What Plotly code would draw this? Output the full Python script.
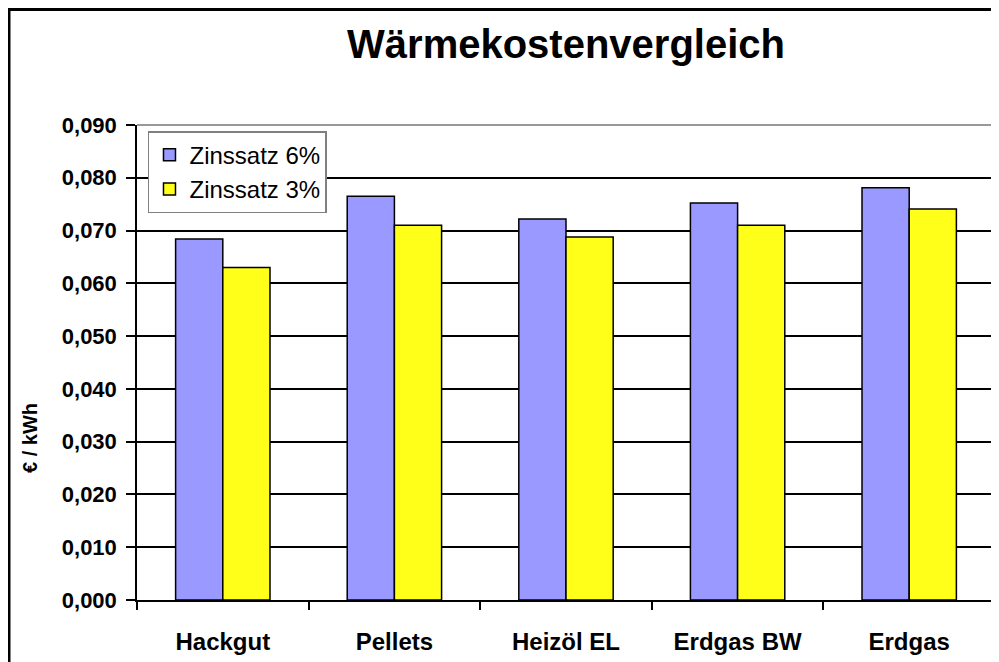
import plotly.graph_objects as go

categories = ["Hackgut", "Pellets", "Heizöl EL", "Erdgas BW", "Erdgas"]
zins_6 = [0.0684, 0.0765, 0.0722, 0.0752, 0.0781]
zins_3 = [0.0630, 0.0710, 0.0688, 0.0710, 0.0741]
y_ticks = [0.0, 0.01, 0.02, 0.03, 0.04, 0.05, 0.06, 0.07, 0.08, 0.09]

sans = "Liberation Sans, Arial, sans-serif"

fig = go.Figure()
fig.add_trace(go.Bar(x=categories, y=zins_6, name="Zinssatz 6%",
                     marker=dict(color="#9999ff", line=dict(color="black", width=1.5))))
fig.add_trace(go.Bar(x=categories, y=zins_3, name="Zinssatz 3%",
                     marker=dict(color="#ffff1a", line=dict(color="black", width=1.5))))

fig.update_layout(
    width=999, height=662,
    margin=dict(l=129, r=12, t=117, b=70),
    paper_bgcolor="white", plot_bgcolor="white",
    separators=",.",
    barmode="group", bargap=0.45, bargroupgap=0,
    title=dict(text="Wärmekostenvergleich", x=0.5586, xanchor="center", y=0.9456, yanchor="middle",
               font=dict(family=sans, size=40, color="black", weight="bold")),
    legend=dict(x=0.0128, y=0.987, xanchor="left", yanchor="top",
                bgcolor="white", bordercolor="#808080", borderwidth=1.5,
                font=dict(family=sans, size=24, color="black"),
                itemwidth=30, tracegroupgap=0),
    showlegend=True,
)

fig.update_yaxes(
    range=[0, 0.09], tickvals=y_ticks, tickformat=".3f",
    showgrid=True, gridcolor="black", gridwidth=1.5,
    showline=True, linecolor="black", linewidth=1.5,
    ticks="outside", ticklen=9, tickwidth=1.5, tickcolor="black",
    ticklabelstandoff=5,
    tickfont=dict(family=sans, size=22, color="black", weight="bold"),
    zeroline=False,
)
fig.update_xaxes(
    showline=True, linecolor="black", linewidth=1.5,
    ticks="outside", ticklen=8, tickwidth=1.5, tickcolor="black", tickson="boundaries",
    ticklabelstandoff=19,
    tickfont=dict(family=sans, size=24, color="black", weight="bold"),
)

fig.add_annotation(text="€ / kWh", textangle=-90, xref="paper", yref="paper",
                   x=-0.1247, y=0.341, xanchor="center", yanchor="middle", showarrow=False,
                   font=dict(family=sans, size=20, color="black", weight="bold"))

# plot area border (gray, top and right) and outer chart frame
fig.add_shape(type="line", xref="paper", yref="paper", x0=0, x1=1, y0=1, y1=1,
              line=dict(color="#999999", width=2))
fig.add_shape(type="line", xref="paper", yref="paper", x0=1, x1=1, y0=0, y1=1,
              line=dict(color="#999999", width=2))
fig.add_shape(type="rect", xref="paper", yref="paper", x0=-0.1492, x1=1.1, y0=-0.3, y1=1.2432,
              line=dict(color="black", width=3), layer="above")

fig.write_html("out.html")
